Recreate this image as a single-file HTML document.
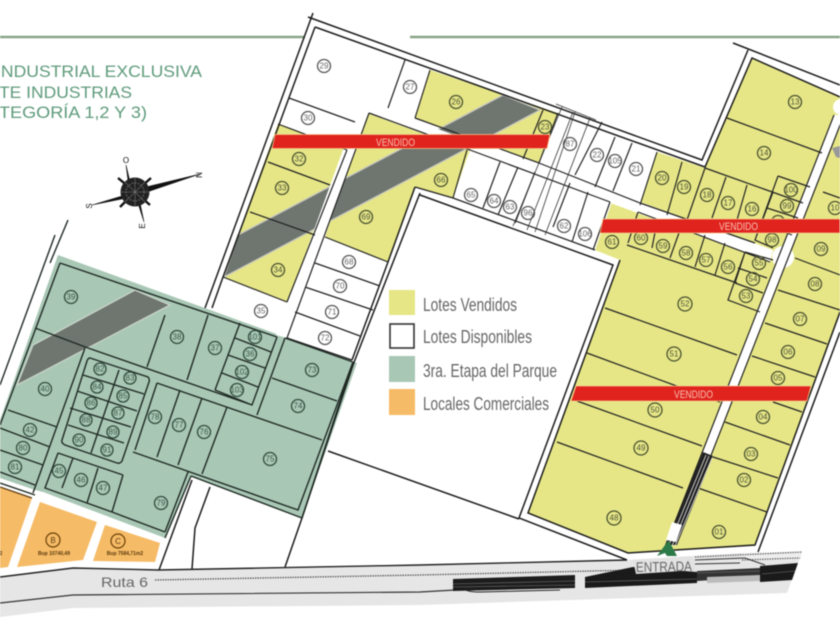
<!DOCTYPE html>
<html><head><meta charset="utf-8"><style>
html,body{margin:0;padding:0;background:#fff}
svg{display:block;filter:blur(.4px)}
.n circle{fill:none;stroke:#4a5230;stroke-width:1.3}
.n text{font:8px "Liberation Sans",sans-serif;fill:#4d5538;text-anchor:middle;dominant-baseline:central}
.w circle{stroke:#555}.w text{fill:#666}
.g circle{stroke:#2f4a3c}.g text{fill:#3a5a4a}
.leg{font:18px "Liberation Sans",sans-serif;fill:#666}
.h{font:17px "Liberation Sans",sans-serif;fill:#5f9b7c}
.v{font:11px "Liberation Sans",sans-serif;fill:#f6c0b0}
</style></head><body>
<svg width="840" height="630" viewBox="0 0 840 630" xmlns="http://www.w3.org/2000/svg">
<rect width="840" height="630" fill="#fff"/>
<path d="M0 37H305M410 37H840" stroke="#8aa588" stroke-width="2.4" fill="none"/>
<text class="h" x="-4" y="77" textLength="206" lengthAdjust="spacingAndGlyphs">INDUSTRIAL EXCLUSIVA</text>
<text class="h" x="-1" y="98" textLength="133" lengthAdjust="spacingAndGlyphs">TE INDUSTRIAS</text>
<text class="h" x="-1" y="118" textLength="148" lengthAdjust="spacingAndGlyphs">TEGORÍA 1,2 Y 3)</text>

<!-- compass -->
<path d="M126 165L131 186L139 198L144 222L137 200L129 188ZM92 205L122 196L150 186L200 174L150 191L122 199Z" fill="#111" stroke="#111" stroke-width=".6"/>
<path d="M118 178L135 192L150 205M151 178L135 192L120 207" stroke="#111" stroke-width="2.4"/>
<circle cx="135" cy="192" r="14.5" fill="#222"/>
<circle cx="135" cy="192" r="9" fill="none" stroke="#888" stroke-width=".8" stroke-dasharray="1.5 1.5"/>
<path d="M121 192H149M135 178V206M125 182L145 202M145 182L125 202" stroke="#777" stroke-width=".6"/>
<g font-family="Liberation Sans,sans-serif" font-size="8" fill="#111" text-anchor="middle">
<text x="126" y="163">O</text>
<text transform="translate(202,175) rotate(-90)">N</text>
<text transform="translate(92,206) rotate(-90)">S</text>
<text transform="translate(145,226) rotate(-90)">E</text>
</g>

<!-- Ruta 6 -->
<polygon points="0,577 73,568 158,570 420,565 627,560 742,553 802,552 787,593 420,605 73,608 0,617" fill="#e6e6e6"/>
<polygon points="742,553 802,552 800,560 742,560" fill="#eee"/>
<path d="M0 577L73 568L158 570L420 565L627 560" fill="none" stroke="#222" stroke-width="1.4"/>
<path d="M0 603L73 595L420 592L455 590" fill="none" stroke="#333" stroke-width="1.2"/>
<path d="M155 580L420 575L635 570" fill="none" stroke="#555" stroke-width="1.3" stroke-dasharray="1.5 1"/>
<path d="M695 557L802 552M742 560L800 558" fill="none" stroke="#666" stroke-width="1.3" stroke-dasharray="1.5 1"/>
<polygon points="453,579 575,575 575,588 453,591" fill="#1c1c1c"/>
<polygon points="585,577 633,567 697,572 697,583 585,588" fill="#1a1a1a"/>
<polygon points="760,566 798,563 792,580 760,582" fill="#1a1a1a"/>
<polygon points="697,571 760,568 760,577 697,581" fill="#333"/>
<polygon points="707,577 760,575 760,581 707,583" fill="#bbb"/>
<path d="M453 584L575 581M585 582L697 579M453 587L575 585M697 573L760 571M762 574L795 571" stroke="#777" stroke-width=".6"/>
<path d="M480 590C460 585 460 592 480 592L560 590" fill="none" stroke="#222" stroke-width="1"/>
<path d="M695 560L745 558L765 565M695 564L740 563" fill="none" stroke="#333" stroke-width="1"/>

<!-- yellow areas -->
<g fill="#e6e687">
<polygon points="278,124 347,150 287,302 223,277"/>
<polygon points="367,113 470,150 453,198 415,187 388,262 325,237"/>
<polygon points="430,70 558,113 539,163 415,118"/>
<polygon points="752,58 840,97 840,312 755,545 628,553 528,513 620,260 595,250 612,202 640,205 657,152 705,168"/>
</g>

<!-- green -->
<polygon points="58,255 357,363 302,518 191,476 165,538 43,492 35,490 0,478 0,420" fill="#a9c7b5"/>
<polygon points="37,492 43,492 165,540 160,544 40,500" fill="#fff"/>

<!-- gray bands -->
<polygon points="238,235 503,95 540,110 224,277" fill="#6f7670" stroke="#c8c8c0" stroke-width="1.3"/>
<polygon points="33,345 135,290 170,305 17,385" fill="#6f7670" stroke="#c8d4c8" stroke-width="1.3"/>
<polygon points="840,146 832,148 836,157 840,158" fill="#999"/>

<!-- white roads -->
<polygon points="363,102 773,250 770,262 367,113" fill="#fff"/>
<polygon points="361,101 369,113 287,338 276,335 353,122" fill="#fff"/>
<polygon points="834,115 844,115 676,545 666,545" fill="#fff"/>
<circle cx="783" cy="257" r="11" fill="#fff"/>
<circle cx="841" cy="107" r="8" fill="#fff"/>
<polygon points="470,150 610,202 595,250 453,198" fill="#fff"/>
<polygon points="539,163 558,113 657,152 640,205" fill="#fff"/>
<polygon points="415,118 430,70 405,60 388,108" fill="#fff"/>

<!-- black lines -->
<path fill="none" stroke="#1c1c1c" stroke-width="1.5" d="
M313 13L205 308M315 27L223 277L212 308
M308 17L702 160L748 50M733 43L840 85
M315 27L705 167L752 58L840 97
M420 195L613 265L519 518L627 560
M620 260L528 513L628 553L755 545L840 312
M758 552L840 332
M420 193L353 365L302 518
M415 187L388 262M388 262L352 360
M328 451L519 519
M192 480L159 570M210 487L195 528L192 569M302 518L285 567"/>
<path fill="none" stroke="#222" stroke-width="1.2" d="
M405 60L388 108M430 70L415 118
M289 98L355 122M278 124L347 150M268 162L330 185M250 212L315 235M223 277L287 302M347 150L287 302
M415 118L539 163L558 113M543 110L523 159
M369 113L470 150M467 150L453 198M325 237L388 262M315 263L380 286M305 287L373 310M295 312L360 336M287 338L352 360M369 113L287 338
M415 187L453 198M453 198L595 250
M470 150L610 202
M615 137L595 187M632 143L613 191M657 152L640 205M602 122L575 175
M500 162L483 208M518 167L498 215M535 172L515 223M570 183L553 227M588 192L572 242M610 202L593 250
M539 163L640 203
M682 162L667 215M705 168L687 220M726 177L712 218M747 185L735 227M773 192L755 240
M705 168L803 203M640 203L755 243
M778 176L810 187M778 176L755 240L773 248M767 208L798 218M768 226L792 235
M727 118L822 153
M638 212L628 243M657 222L652 248M680 230L670 258M705 235L695 267M725 243L715 275M745 252L735 283
M627 245L737 283M638 212L770 262
M745 252L773 260M745 252L728 300L760 312M738 268L767 278M735 283L763 293
M605 308L737 355M587 353L720 402M577 401L702 446M557 442L683 488
M823 192L840 198M795 258L840 275M778 290L840 310M765 323L827 344M752 356L815 377M773 402L802 412M725 422L790 445M713 457L778 478M698 488L767 512
M834 115L666 545M844 115L676 545
"/>
<path fill="none" stroke="#333" stroke-width=".8" d="M562 107L513 226M573 112L527 230M575 112L535 232M590 118L545 235M556 104L596 120"/>

<!-- green lines -->
<path fill="none" stroke="#1f2a24" stroke-width="1.4" d="
M68 220L50 263M55 235L0 385M60 263L0 425
M60 263L277 337M165 315L147 367M208 315L187 380M240 323L215 390
M277 337L252 405L215 390M235 338L271 352M228 355L265 368M222 373L258 387
M88 348L252 405M157 383L322 440
M35 328L88 348M85 348L33 493
M285 338L257 415M285 338L353 362M272 378L337 401M353 362L298 510L133 452
M157 383L135 450M180 390L157 457M202 398L178 465M227 407L202 474
M188 472L165 532M112 512L165 532M123 475L112 512
M58 453L123 475M58 453L45 488L112 512M73 458L62 488M98 468L87 503
M90 358L148 377Q150 379 149 382L122 461Q120 464 117 463L65 445Q61 443 62 440L87 361Q88 358 90 358Z
M119 370L91 453M83 375L144 394M77 391L137 411M70 408L131 427M68 425L124 443
M8 410L57 427M0 428L50 447M0 450L43 465M0 472L35 485M0 483L35 495
M353 362L302 518M191 476L302 518M191 476L165 538"/>

<!-- commercial -->
<g fill="#f6bb66">
<polygon points="0,487 32,498 8,567 0,568"/>
<polygon points="40,502 97,522 83,560 17,567"/>
<polygon points="105,525 160,543 155,562 93,561"/>
</g>
<path d="M0 487L32 498" stroke="#5a3a10" stroke-width="1.2"/>
<g fill="none" stroke="#6a4208" stroke-width="1.2"><circle cx="53" cy="540" r="7"/><circle cx="118" cy="541" r="7"/></g>
<g font-family="Liberation Sans,sans-serif" fill="#5a3a10" text-anchor="middle">
<text x="53" y="543" font-size="8">B</text><text x="118" y="544" font-size="8">C</text>
<text x="54" y="555" font-size="5" font-weight="bold">Bup 10740,49</text>
<text x="125" y="555" font-size="5" font-weight="bold">Bup 7584,71m2</text>
<text x="1" y="555" font-size="5" font-weight="bold">2</text>
</g>

<!-- entry stripes -->
<polygon points="703,452 713,456 677,545 665,545" fill="#222"/>
<path d="M706 455L669 545M709 456L672 546M712 458L675 546" stroke="#eee" stroke-width=".8"/>
<polygon points="672,522 682,525 676,542 666,540" fill="#fff"/>
<polygon points="668,541 657,556 665,553 667,556 677,556 669,541" fill="#2c7a48"/>

<!-- Ruta label -->
<text x="101" y="587" font-family="Liberation Sans,sans-serif" font-size="14" fill="#666" textLength="47" lengthAdjust="spacingAndGlyphs">Ruta 6</text>
<polygon points="633,560 692,556 696,570 636,574" fill="#e2e2e2"/>
<text x="636" y="572" font-family="Liberation Sans,sans-serif" font-size="14" fill="#666" textLength="56" lengthAdjust="spacingAndGlyphs" transform="rotate(-1 636 572)">ENTRADA</text>

<!-- numbers on yellow -->
<g class="n">
<g><circle cx="456" cy="102" r="6.5"/><text x="456" y="102">26</text></g>
<g><circle cx="545" cy="127" r="6.5"/><text x="545" y="127">23</text></g>
<g><circle cx="299" cy="159" r="6.5"/><text x="299" y="159">32</text></g>
<g><circle cx="282" cy="188" r="6.5"/><text x="282" y="188">33</text></g>
<g><circle cx="366" cy="217" r="6.5"/><text x="366" y="217">69</text></g>
<g><circle cx="441" cy="180" r="6.5"/><text x="441" y="180">66</text></g>
<g><circle cx="278" cy="270" r="6.5"/><text x="278" y="270">34</text></g>
<g><circle cx="612" cy="242" r="6.5"/><text x="612" y="242">61</text></g>
<g><circle cx="641" cy="238" r="6.5"/><text x="641" y="238">60</text></g>
<g><circle cx="663" cy="246" r="6.5"/><text x="663" y="246">59</text></g>
<g><circle cx="686" cy="253" r="6.5"/><text x="686" y="253">58</text></g>
<g><circle cx="706" cy="260" r="6.5"/><text x="706" y="260">57</text></g>
<g><circle cx="728" cy="267" r="6.5"/><text x="728" y="267">56</text></g>
<g><circle cx="759" cy="263" r="6.5"/><text x="759" y="263">55</text></g>
<g><circle cx="753" cy="279" r="6.5"/><text x="753" y="279">54</text></g>
<g><circle cx="746" cy="296" r="6.5"/><text x="746" y="296">53</text></g>
<g><circle cx="662" cy="178" r="6.5"/><text x="662" y="178">20</text></g>
<g><circle cx="684" cy="187" r="6.5"/><text x="684" y="187">19</text></g>
<g><circle cx="707" cy="195" r="6.5"/><text x="707" y="195">18</text></g>
<g><circle cx="728" cy="203" r="6.5"/><text x="728" y="203">17</text></g>
<g><circle cx="752" cy="209" r="6.5"/><text x="752" y="209">16</text></g>
<g><circle cx="791" cy="190" r="6.5"/><text x="791" y="190">100</text></g>
<g><circle cx="787" cy="206" r="6.5"/><text x="787" y="206">99</text></g>
<g><circle cx="778" cy="222" r="6.5"/><text x="778" y="222">97</text></g>
<g><circle cx="772" cy="240" r="6.5"/><text x="772" y="240">98</text></g>
<g><circle cx="795" cy="102" r="6.5"/><text x="795" y="102">13</text></g>
<g><circle cx="764" cy="153" r="6.5"/><text x="764" y="153">14</text></g>
<g><circle cx="835" cy="208" r="6.5"/><text x="835" y="208">10</text></g>
<g><circle cx="821" cy="249" r="6.5"/><text x="821" y="249">09</text></g>
<g><circle cx="815" cy="284" r="6.5"/><text x="815" y="284">08</text></g>
<g><circle cx="800" cy="319" r="6.5"/><text x="800" y="319">07</text></g>
<g><circle cx="788" cy="352" r="6.5"/><text x="788" y="352">06</text></g>
<g><circle cx="778" cy="378" r="6.5"/><text x="778" y="378">05</text></g>
<g><circle cx="763" cy="417" r="6.5"/><text x="763" y="417">04</text></g>
<g><circle cx="751" cy="454" r="6.5"/><text x="751" y="454">03</text></g>
<g><circle cx="744" cy="480" r="6.5"/><text x="744" y="480">02</text></g>
<g><circle cx="719" cy="532" r="6.5"/><text x="719" y="532">01</text></g>
<g><circle cx="685" cy="304" r="7"/><text x="685" y="304">52</text></g>
<g><circle cx="674" cy="354" r="7"/><text x="674" y="354">51</text></g>
<g><circle cx="655" cy="410" r="7"/><text x="655" y="410">50</text></g>
<g><circle cx="641" cy="448" r="7"/><text x="641" y="448">49</text></g>
<g><circle cx="614" cy="518" r="7"/><text x="614" y="518">48</text></g>
</g>
<!-- numbers on white -->
<g class="n w">
<g><circle cx="324" cy="66" r="6.5"/><text x="324" y="66">29</text></g>
<g><circle cx="410" cy="87" r="6.5"/><text x="410" y="87">27</text></g>
<g><circle cx="308" cy="118" r="6.5"/><text x="308" y="118">30</text></g>
<g><circle cx="349" cy="262" r="6.5"/><text x="349" y="262">68</text></g>
<g><circle cx="340" cy="286" r="6.5"/><text x="340" y="286">70</text></g>
<g><circle cx="332" cy="312" r="6.5"/><text x="332" y="312">71</text></g>
<g><circle cx="325" cy="338" r="6.5"/><text x="325" y="338">72</text></g>
<g><circle cx="261" cy="311" r="6.5"/><text x="261" y="311">35</text></g>
<g><circle cx="570" cy="144" r="6.5"/><text x="570" y="144">87</text></g>
<g><circle cx="597" cy="155" r="6.5"/><text x="597" y="155">22</text></g>
<g><circle cx="615" cy="161" r="6.5"/><text x="615" y="161">105</text></g>
<g><circle cx="636" cy="169" r="6.5"/><text x="636" y="169">21</text></g>
<g><circle cx="471" cy="195" r="6.5"/><text x="471" y="195">65</text></g>
<g><circle cx="494" cy="201" r="6.5"/><text x="494" y="201">64</text></g>
<g><circle cx="510" cy="207" r="6.5"/><text x="510" y="207">63</text></g>
<g><circle cx="528" cy="213" r="6.5"/><text x="528" y="213">96</text></g>
<g><circle cx="564" cy="226" r="6.5"/><text x="564" y="226">62</text></g>
<g><circle cx="585" cy="234" r="6.5"/><text x="585" y="234">106</text></g>
</g>
<!-- numbers on green -->
<g class="n g">
<g><circle cx="71" cy="297" r="6.5"/><text x="71" y="297">39</text></g>
<g><circle cx="177" cy="337" r="6.5"/><text x="177" y="337">38</text></g>
<g><circle cx="215" cy="348" r="6.5"/><text x="215" y="348">37</text></g>
<g><circle cx="255" cy="337" r="6.5"/><text x="255" y="337">101</text></g>
<g><circle cx="250" cy="354" r="6.5"/><text x="250" y="354">36</text></g>
<g><circle cx="242" cy="372" r="6.5"/><text x="242" y="372">102</text></g>
<g><circle cx="237" cy="390" r="6.5"/><text x="237" y="390">103</text></g>
<g><circle cx="312" cy="370" r="6.5"/><text x="312" y="370">73</text></g>
<g><circle cx="298" cy="406" r="6.5"/><text x="298" y="406">74</text></g>
<g><circle cx="270" cy="459" r="6.5"/><text x="270" y="459">75</text></g>
<g><circle cx="45" cy="389" r="6.5"/><text x="45" y="389">40</text></g>
<g><circle cx="100" cy="369" r="6"/><text x="100" y="369">82</text></g>
<g><circle cx="130" cy="378" r="6"/><text x="130" y="378">83</text></g>
<g><circle cx="97" cy="387" r="6"/><text x="97" y="387">84</text></g>
<g><circle cx="123" cy="396" r="6"/><text x="123" y="396">85</text></g>
<g><circle cx="91" cy="403" r="6"/><text x="91" y="403">86</text></g>
<g><circle cx="118" cy="413" r="6"/><text x="118" y="413">87</text></g>
<g><circle cx="86" cy="420" r="6"/><text x="86" y="420">88</text></g>
<g><circle cx="113" cy="432" r="6"/><text x="113" y="432">89</text></g>
<g><circle cx="79" cy="440" r="6"/><text x="79" y="440">90</text></g>
<g><circle cx="107" cy="450" r="6"/><text x="107" y="450">91</text></g>
<g><circle cx="155" cy="417" r="6.5"/><text x="155" y="417">78</text></g>
<g><circle cx="179" cy="425" r="6.5"/><text x="179" y="425">77</text></g>
<g><circle cx="204" cy="432" r="6.5"/><text x="204" y="432">76</text></g>
<g><circle cx="30" cy="430" r="6.5"/><text x="30" y="430">42</text></g>
<g><circle cx="23" cy="448" r="6.5"/><text x="23" y="448">80</text></g>
<g><circle cx="15" cy="467" r="6.5"/><text x="15" y="467">81</text></g>
<g><circle cx="59" cy="471" r="6.5"/><text x="59" y="471">45</text></g>
<g><circle cx="81" cy="480" r="6.5"/><text x="81" y="480">46</text></g>
<g><circle cx="103" cy="488" r="6.5"/><text x="103" y="488">47</text></g>
<g><circle cx="161" cy="503" r="6.5"/><text x="161" y="503">79</text></g>
</g>

<!-- red bars -->
<g fill="#e1231e" stroke="#f3c98a" stroke-width=".8">
<polygon points="275,134.500 550,134.500 547,148.500 272,148.500"/>
<polygon points="603,219 840,219 840,233 600,233"/>
<polygon points="576,386 811,386 807,401 571,401"/>
</g>
<text class="v" x="376" y="146" textLength="39" lengthAdjust="spacingAndGlyphs">VENDIDO</text>
<text class="v" x="719" y="230" textLength="39" lengthAdjust="spacingAndGlyphs">VENDIDO</text>
<text class="v" x="674" y="398" textLength="39" lengthAdjust="spacingAndGlyphs">VENDIDO</text>

<!-- legend -->
<rect x="389" y="290" width="26" height="25" fill="#e6e687"/>
<rect x="390" y="324" width="24" height="24" fill="#fff" stroke="#333" stroke-width="1.6"/>
<rect x="389" y="356" width="26" height="26" fill="#a9c7b5"/>
<rect x="389" y="389" width="26" height="26" fill="#f6bb66"/>
<text class="leg" x="423" y="311" textLength="94" lengthAdjust="spacingAndGlyphs">Lotes Vendidos</text>
<text class="leg" x="423" y="343" textLength="109" lengthAdjust="spacingAndGlyphs">Lotes Disponibles</text>
<text class="leg" x="423" y="377" textLength="134" lengthAdjust="spacingAndGlyphs">3ra. Etapa del Parque</text>
<text class="leg" x="423" y="410" textLength="126" lengthAdjust="spacingAndGlyphs">Locales Comerciales</text>
</svg>
</body></html>
